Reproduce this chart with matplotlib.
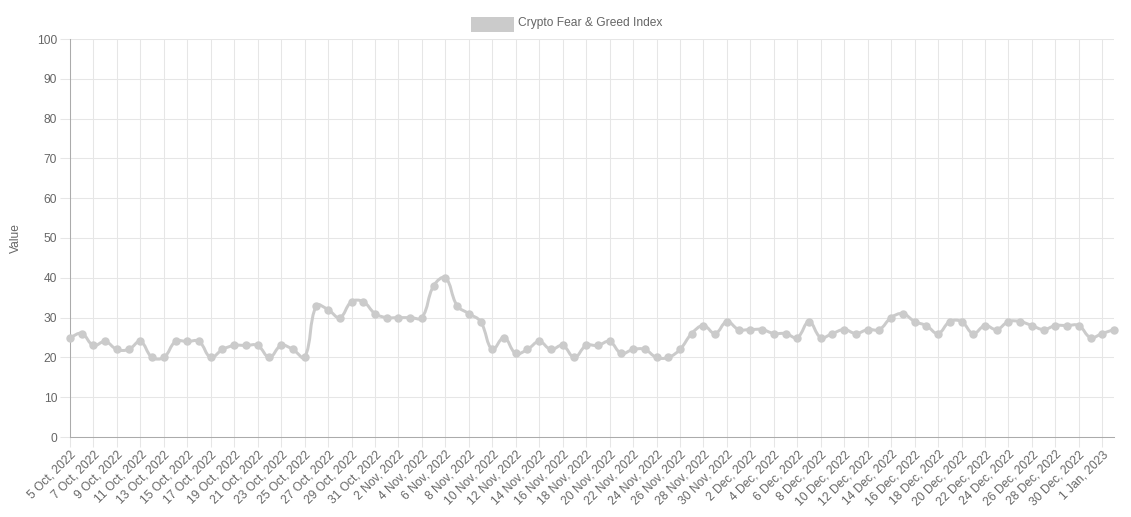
import numpy as np
import matplotlib
matplotlib.use("Agg")
import matplotlib.pyplot as plt
from matplotlib.path import Path
from matplotlib.patches import PathPatch, Rectangle
import datetime as dt

plt.rcParams['font.family'] = ['Liberation Sans', 'DejaVu Sans']

# ---- data ----
start_date = dt.date(2022, 10, 5)
values = [
    # Oct 5 - Oct 31
    25, 26, 23, 24, 22, 22, 24, 20, 20, 24, 24, 24, 20, 22, 23, 23, 23, 20, 23, 22, 20, 33, 32, 30, 34, 34, 31,
    # Nov 1 - Nov 30
    30, 30, 30, 30, 38, 40, 33, 31, 29, 22, 25, 21, 22, 24, 22, 23, 20, 23, 23, 24, 21, 22, 22, 20, 20, 22, 26, 28, 26, 29,
    # Dec 1 - Dec 31
    27, 27, 27, 26, 26, 25, 29, 25, 26, 27, 26, 27, 27, 30, 31, 29, 28, 26, 29, 29, 26, 28, 27, 29, 29, 28, 27, 28, 28, 28, 25,
    # Jan 1 - Jan 2
    26, 27,
]
dates = [start_date + dt.timedelta(days=i) for i in range(len(values))]
labels = [f"{d.day} {d.strftime('%b')}, {d.year}" for d in dates]
labels = [l.replace("Jan,", "Jan.,") if False else l for l in labels]
series_name = "Crypto Fear & Greed Index"
y_ticks = list(range(0, 101, 10))

# ---- style ----
W, H = 1131, 517
line_color = '#cbcbcb'
grid_color = '#e6e6e6'
zero_color = '#ababab'
text_color = '#666666'
fs = 12 * 72 / 100  # 12px

fig = plt.figure(figsize=(W / 100, H / 100), dpi=100)
L, R, T, B = 70, 1114, 39, 437
ax = fig.add_axes([L / W, (H - B) / H, (R - L) / W, (B - T) / H])

n = len(values)
xs = np.arange(n, dtype=float)
ys = np.array(values, dtype=float)
ax.set_xlim(0, n - 1)
ax.set_ylim(0, 100)

# chart.js style cubic smoothing (tension 0.4) computed in pixel space
sx = (R - L) / (n - 1)
sy = (B - T) / 100.0
P = np.column_stack([xs * sx, ys * sy])
t = 0.4
cp_prev = np.zeros_like(P)
cp_next = np.zeros_like(P)
for i in range(n):
    prev = P[i - 1] if i > 0 else P[i]
    cur = P[i]
    nxt = P[i + 1] if i < n - 1 else P[i]
    d01 = np.hypot(*(cur - prev))
    d12 = np.hypot(*(nxt - cur))
    tot = d01 + d12
    s01 = d01 / tot if tot else 0
    s12 = d12 / tot if tot else 0
    cp_prev[i] = cur - t * s01 * (nxt - prev)
    cp_next[i] = cur + t * s12 * (nxt - prev)
cp_prev[:, 1] = np.clip(cp_prev[:, 1], 0, 100 * sy)
cp_next[:, 1] = np.clip(cp_next[:, 1], 0, 100 * sy)
scale = np.array([sx, sy])
verts = [P[0] / scale]
codes = [Path.MOVETO]
for i in range(n - 1):
    verts += [cp_next[i] / scale, cp_prev[i + 1] / scale, P[i + 1] / scale]
    codes += [Path.CURVE4] * 3
ax.add_patch(PathPatch(Path(verts, codes), facecolor='none', edgecolor=line_color,
                       lw=3 * 72 / 100, zorder=3, joinstyle='round', capstyle='round'))
ax.plot(xs, ys, linestyle='none', marker='o', markersize=7 * 72 / 100,
        color=line_color, markeredgecolor=line_color, zorder=4, clip_on=False)

# grid & spines
for s in ['top', 'right']:
    ax.spines[s].set_visible(False)
ax.spines['left'].set_color(zero_color)
ax.spines['bottom'].set_color(zero_color)
ax.spines['left'].set_linewidth(0.75)
ax.spines['bottom'].set_linewidth(0.75)

ax.set_yticks(y_ticks)
ax.set_yticklabels([str(v) for v in y_ticks])
xt = list(range(0, n, 2))
ax.set_xticks(xt)
ax.set_xticklabels([labels[i] for i in xt], rotation=45, ha='right', va='top',
                   rotation_mode='anchor')
ax.grid(True, color=grid_color, lw=0.75, zorder=0)
ax.set_axisbelow(True)
ax.tick_params(axis='both', colors=grid_color, labelcolor=text_color, labelsize=fs,
               length=10 * 0.72, width=0.75)
ax.tick_params(axis='y', pad=2)
ax.tick_params(axis='x', pad=1)

ax.set_ylabel('Value', fontsize=fs, color=text_color)
ax.yaxis.set_label_coords((22 - L) / (R - L) , 0.5)

# legend (chart.js style)
fig.patches.append(Rectangle((471.5 / W, (H - 29.5) / H), 40 / W, 12 / H,
                             transform=fig.transFigure, facecolor=line_color,
                             edgecolor=line_color, lw=3 * 72 / 100, figure=fig))
fig.text(518 / W, (H - 23) / H, series_name, fontsize=fs, color=text_color,
         ha='left', va='center')

fig.savefig('out.png', dpi=100)
